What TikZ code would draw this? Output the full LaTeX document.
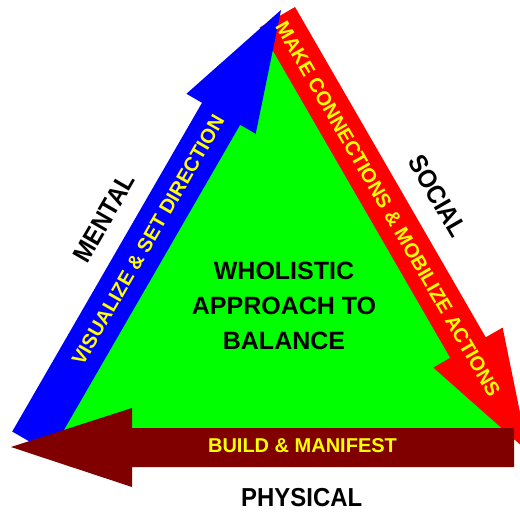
\documentclass[tikz,border=0pt]{standalone}
\usepackage{fontspec}
\setmainfont{Liberation Sans}
\usepackage{graphicx}
\definecolor{triGreen}{RGB}{0,255,0}
\definecolor{arrRed}{RGB}{255,0,0}
\definecolor{arrBlue}{RGB}{0,0,255}
\definecolor{arrBrown}{RGB}{128,0,0}
\definecolor{txtYellow}{RGB}{255,255,0}
\begin{document}
\begin{tikzpicture}[x=1pt,y=-1pt,
  lab/.style={font=\bfseries\fontsize{20}{20}\selectfont, text=txtYellow, inner sep=0pt},
  side/.style={font=\bfseries\fontsize{26}{26}\selectfont, text=black, inner sep=0pt},
  centertext/.style={font=\bfseries\fontsize{25}{35}\selectfont, text=black, align=center, inner sep=0pt}]
\clip (0,0) rectangle (520,512);
\fill[white] (0,0) rectangle (520,512);
% green triangle
\fill[triGreen] (278,22) -- (48.5,440) -- (515,440) -- cycle;
% red arrow (down-right)
\begin{scope}[shift={(200.48,-115.75)}, rotate=-60]
  \fill[arrRed] (153.6,-20.5) -- (535,-20.5) -- (535,-40) -- (655,0) -- (535,40) -- (535,20.5) -- (153.6,20.5) -- cycle;
\end{scope}
% blue arrow (up-right)
\begin{scope}[shift={(215.07,124.18)}, rotate=60]
  \fill[arrBlue] (-367.6,-22) -- (12,-22) -- (12,-40) -- (132,0) -- (12,40) -- (12,22) -- (-367.6,22) -- cycle;
\end{scope}
% brown arrow (left)
\fill[arrBrown] (11,447) -- (132,408) -- (132,428) -- (514,428) -- (514,467) -- (132,467) -- (132,487) -- cycle;
% texts
\node[lab, rotate=60] (visualize) at (148,240) {VISUALIZE \& SET DIRECTION};
\node[lab, rotate=-60] (make) at (388,209) {MAKE CONNECTIONS \& MOBILIZE ACTIONS};
\node[lab, anchor=base] (build) at (302.5,452.7) {BUILD \& MANIFEST};
\node[side, rotate=60] (mental) at (104,218) {\scalebox{0.92}[1]{MENTAL}};
\node[side, rotate=-60] (social) at (438,196) {\scalebox{0.92}[1]{SOCIAL}};
\node[side, anchor=base] (physical) at (301.7,506.7) {\scalebox{0.92}[1]{PHYSICAL}};
\node[centertext] (wholistic) at (284,306) {WHOLISTIC\\APPROACH TO\\BALANCE};
\end{tikzpicture}
\end{document}
